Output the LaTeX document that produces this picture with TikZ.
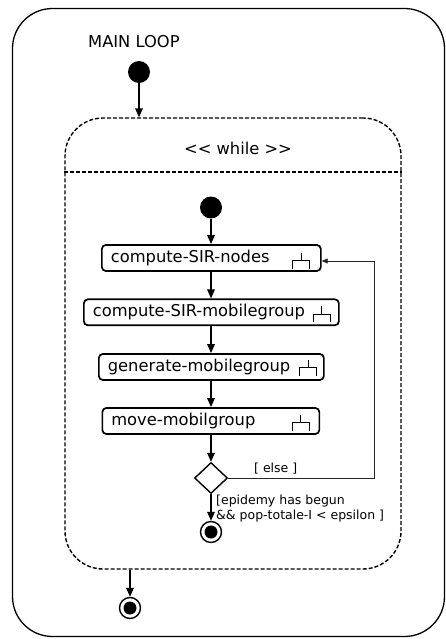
\documentclass[tikz,border=0pt]{standalone}
\usepackage{fontspec}
\setmainfont{DejaVu Sans}
\usetikzlibrary{arrows.meta,shapes.geometric,calc}
\tikzset{
  arr/.style={line width=1.5pt,-{Triangle[length=9pt,width=7.5pt]}},
  elsearr/.style={line width=0.9pt,draw=black!85,-{Triangle[length=6pt,width=5pt]}},
  actbox/.style={draw,line width=1.7pt,rounded corners=4pt,minimum height=26pt,inner xsep=9pt,inner ysep=0pt,align=left,anchor=west,font=\fontsize{16.3}{19}\selectfont},
  startdot/.style={circle,fill=black,minimum size=22pt,inner sep=0pt},
  enddot/.style={circle,draw,line width=1.4pt,minimum size=21pt,inner sep=0pt},
  wdash/.style={line width=1.4pt,dash pattern=on 4pt off 2pt},
  bigtext/.style={font=\fontsize{16.3}{19}\selectfont,inner sep=0pt},
  smalltext/.style={font=\fontsize{12.5}{15}\selectfont,inner sep=0pt,align=left},
  rakeline/.style={line width=1.1pt}
}
\newcommand\rakeat[1]{%
  \draw[rakeline] (#1) ++(-8.5,0) -- ++(0,-8) -- ++(17,0) -- ++(0,8);
  \draw[rakeline] (#1) ++(0,-8) -- ++(0,-8);}
\begin{document}
\begin{tikzpicture}[x=1pt,y=-1pt]
\useasboundingbox (0,0) rectangle (446,639);
% outer region
\node[draw,line width=1.3pt,rounded corners=40pt,minimum width=432pt,minimum height=628pt,inner sep=0pt] (outer) at (228.5,322.5) {};
\node[bigtext,anchor=west] (title) at (88,42) {MAIN LOOP};
\node[startdot] (init) at (139,72) {};
% while region
\node[draw,wdash,rounded corners=38pt,minimum width=336pt,minimum height=451pt,inner sep=0pt] (wb) at (233,343.5) {};
\draw[wdash] (wb.west |- 0,172) -- (wb.east |- 0,172);
\node[bigtext] (wlabel) at (238,148) {{<}{<} while {>}{>}};
\draw[arr] (init) -- (init |- wb.north);
% inner flow
\node[startdot] (init2) at (211,207.5) {};
\node[actbox,text width=201pt] (b1) at (101,258) {compute-SIR-nodes};
\node[actbox,text width=237pt] (b2) at (83,312.3) {compute-SIR-mobilegroup};
\node[actbox,text width=207pt] (b3) at (98,367) {generate-mobilegroup};
\node[actbox,text width=199pt] (b4) at (101.5,421) {move-mobilgroup};
\coordinate (r1) at ($(b1.south east)+(-20.5,-3)$);
\coordinate (r2) at ($(b2.south east)+(-18,-4)$);
\coordinate (r3) at ($(b3.south east)+(-16.5,-5)$);
\coordinate (r4) at ($(b4.south east)+(-19.5,-4)$);
\rakeat{r1}
\rakeat{r2}
\rakeat{r3}
\rakeat{r4}
\node[diamond,draw,line width=1.4pt,minimum width=33pt,minimum height=31pt,inner sep=0pt] (dec) at (211,478) {};
\node[enddot] (fin1) at (211,532) {};
\fill (fin1) circle (6.5pt);
\draw[arr] (init2) -- (init2 |- b1.north);
\draw[arr] (b1.south -| init2) -- (init2 |- b2.north);
\draw[arr] (b2.south -| init2) -- (init2 |- b3.north);
\draw[arr] (b3.south -| init2) -- (init2 |- b4.north);
\draw[arr] (b4.south -| init2) -- (dec.north);
\draw[arr] (dec.south) -- (fin1.north);
\coordinate (c1) at (374,478);
\coordinate (c2) at (374,261);
\draw[elsearr] (dec.east) -- (c1) -- (c2) -- (c2 -| b1.east);
\node[smalltext,anchor=west] (elsel) at (254,469) {[ else ]};
\node[smalltext,anchor=west] (guard) at (216,508.5) {[epidemy has begun\\\&\& pop-totale-I < epsilon ]};
% final of main loop
\node[enddot] (fin2) at (130,608) {};
\fill (fin2) circle (6.5pt);
\draw[arr] (fin2 |- wb.south) -- (fin2.north);
\end{tikzpicture}
\end{document}
